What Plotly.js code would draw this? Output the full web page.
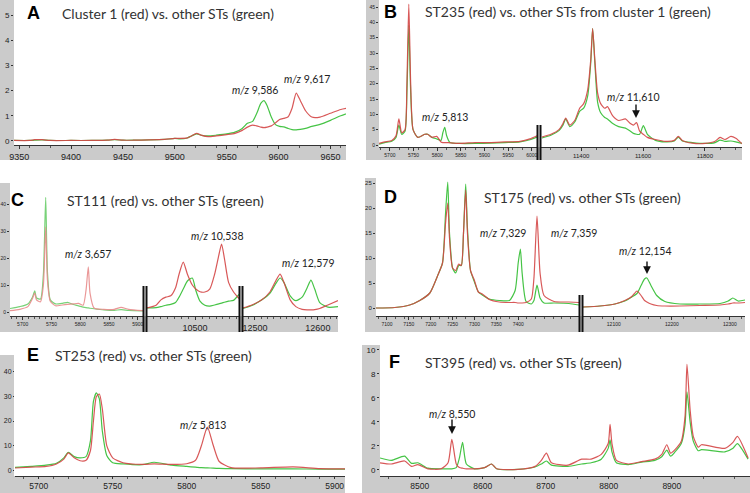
<!DOCTYPE html>
<html><head><meta charset="utf-8">
<script src="https://cdn.plot.ly/plotly-3.0.1.min.js"></script>
<style>html,body{margin:0;padding:0;background:#fff;}#c{width:750px;height:493px;}</style>
</head><body><div id="c"></div>
<script>
// ---------- DATA ----------
// Panel A
var A_mz    = [9345,9360,9365,9372,9380,9400,9420,9435,9442,9450,9460,9475,9490,9500,9505,9512,9516,9521,9526,9532,9540,9550,9558,9565,9570,9575,9579,9583,9586,9589,9593,9597,9601,9605,9609,9613,9617,9621,9626,9632,9640,9650,9660,9670];
var A_red   = [0.02,0.02,0.05,0.05,0.02,0.02,0.02,0.03,0.06,0.03,0.03,0.04,0.06,0.1,0.1,0.12,0.2,0.3,0.22,0.17,0.2,0.25,0.3,0.42,0.55,0.63,0.6,0.55,0.53,0.55,0.6,0.72,0.85,0.9,0.95,1.3,1.9,1.6,1.2,0.95,0.95,1.1,1.25,1.33];
var A_green = [0.02,0.02,0.03,0.04,0.02,0.02,0.02,0.03,0.05,0.03,0.03,0.04,0.06,0.1,0.08,0.12,0.2,0.28,0.22,0.2,0.23,0.28,0.35,0.5,0.7,0.78,1.1,1.5,1.6,1.4,0.95,0.65,0.58,0.56,0.5,0.45,0.44,0.46,0.5,0.58,0.66,0.82,1.0,1.15];
// Panel B, left segment
var B1_mz    = [5677,5689,5704,5713,5719,5725,5732,5736,5740,5744,5749,5759,5774,5780,5789,5799,5808,5812,5816,5820,5827,5848,5880,5911,5943,5975,5996,6011];
var B1_red   = [0.5,1.0,1.5,3,8.5,4,5,20,46,20,5,2.5,3.5,3.5,2.5,2.8,1,0.8,0.8,0.8,0.7,0.5,0.8,0.8,1.0,1.2,2.0,3.0];
var B1_green = [0.3,0.8,1.2,2.5,6.5,3.5,4.5,17,39,17,5,2.5,3.5,3.5,2.5,2,1.5,4,5.8,3,0.8,0.5,0.5,0.6,0.8,1.0,1.7,2.6];
// Panel B, right segment
var B2_mz    = [11273,11302,11328,11341,11350,11363,11379,11395,11408,11421,11431,11437,11444,11453,11463,11476,11485,11502,11521,11543,11559,11569,11579,11589,11601,11614,11640,11672,11701,11714,11727,11759,11801,11833,11849,11865,11884,11900,11920];
var B2_red   = [2.6,3.5,5,7,8.8,6.5,8,12,13.5,18,28,38,28,17,13.5,12,12.5,9.5,8,8.5,7,6.5,7.3,4.5,3.5,2.5,1.8,1.2,1.5,2.8,1.5,0.6,0.5,1.2,2.5,1.8,2.8,2.2,0.4];
var B2_green = [2.3,3.2,4.7,6.5,8.5,6,7.5,11,12,16,27,38,27,14,10.5,9,8.5,7,6,5.5,4.5,3.8,3.5,3.5,6.3,3.5,1.5,1.0,1.3,2.6,1.3,0.8,0.5,0.8,1.6,1.2,1.3,1.0,0.5];
// Panel C, three segments
var C1_mz    = [5678,5695,5709,5717,5721,5724,5731,5736,5740,5743,5748,5757,5769,5778,5788,5797,5805,5810,5814,5817,5824,5841,5859,5871,5884,5909];
var C1_red   = [0.5,1.0,2.0,5.0,7.0,4.5,3.8,10,31.5,12,4,2.3,2.6,2.8,3.0,3.2,2.5,8,16.7,7,1.5,1.0,1.0,1.7,1.0,0.5];
var C1_green = [1.3,2.0,3.0,5.5,7.8,5.2,4.8,14,42.5,15,4.5,3,3.2,3.6,2.8,2.3,1.8,1.6,1.5,1.4,1.2,0.8,0.6,0.9,0.6,0.4];
var C2_mz    = [10431,10444,10451,10458,10465,10472,10477,10483,10489,10496,10501,10507,10514,10521,10528,10534,10538,10542,10548,10555,10563];
var C2_red   = [1.5,2.5,4.5,5.5,6.0,9,14,18.5,14,10,8.5,7.5,7.4,8.5,14,21,25.2,20,11,7.5,5];
var C2_green = [1.5,1.6,2.0,2.5,2.8,3.5,5.5,8.5,11.5,12.6,8,4,2.5,2.2,2.6,3.0,3.3,3.6,4,4.3,6.5];
var C3_mz    = [12481,12495,12511,12524,12533,12540,12546,12556,12565,12575,12583,12589,12595,12603,12616,12632];
var C3_red   = [1.5,2.6,4.5,7.5,11.5,14,11,4.5,2.0,1.0,0.8,0.8,0.9,1.3,2.6,4.2];
var C3_green = [1.3,2.4,4.5,7,10.5,12.6,11,6,4.2,5.5,9,11.8,8.5,3.5,1.8,2.0];
// Panel D, two segments
var D1_mz    = [7075,7118,7152,7175,7198,7216,7227,7234,7239,7243,7250,7257,7264,7270,7275,7280,7284,7291,7300,7309,7318,7334,7357,7380,7393,7400,7405,7409,7418,7430,7436,7443,7450,7459,7482,7516,7539];
var D1_red   = [0.0,0.1,0.6,1.5,3,6.5,9,17,21,14,8,7.5,8.8,8.5,15,23.6,15,7.5,5.5,3.2,2.8,1.7,1.2,1.1,1.1,1.0,1.0,1.0,1.1,1.8,6,18.4,7,2.5,1.3,1.2,1.1];
var D1_green = [0.0,0.1,0.6,1.5,3,6.5,9,19,25.2,15,8,7,8.5,8.5,15,24.8,16,7.5,5.2,3.2,2.6,1.8,1.5,1.5,3.5,9,11.8,7,1.3,0.8,1.5,4.6,2,1.0,1.0,0.9,0.6];
var D2_mz    = [12047,12076,12102,12119,12131,12140,12147,12153,12157,12164,12174,12188,12214,12248,12283,12297,12305,12314,12326];
var D2_red   = [0.2,0.4,0.8,1.5,2.3,3.4,2.5,1.5,1.2,0.8,0.5,0.4,0.4,0.5,0.6,0.8,1.0,1.0,1.1];
var D2_green = [0.2,0.4,0.8,1.4,2.2,2.9,4.5,5.8,6,4.5,2.5,1.3,0.8,0.8,0.9,1.4,2.0,1.4,1.6];
// Panel E
var E_mz    = [5682,5695,5705,5712,5717,5720,5724,5728,5732,5735,5737,5739,5741,5743,5746,5750,5757,5770,5778,5790,5800,5806,5810,5814,5818,5822,5830,5850,5872,5890,5907];
var E_red   = [0.8,1.2,1.5,2.5,4.5,7,5,3.8,4,8,20,30,31,25,10,5,3,2.3,2.5,2.3,2.6,4,10,17.5,10,3.5,1.0,0.9,1.3,0.6,0.5];
var E_green = [1.0,1.5,2.0,2.8,5,7.2,5.5,5,5.5,12,28,31.5,29,16,6,3,2.5,2.2,3.2,2.0,1.5,1.2,1.0,0.9,0.8,0.7,0.6,0.5,0.5,0.4,0.4];
// Panel F
var F_mz    = [8437,8455,8476,8487,8497,8513,8534,8545,8551,8558,8563,8568,8574,8587,8603,8614,8622,8656,8683,8693,8701,8709,8735,8757,8772,8788,8799,8802,8805,8812,8831,8852,8873,8884,8892,8898,8905,8915,8921,8924,8929,8934,8942,8947,8984,8997,9004,9021];
var F_red   = [0.6,0.5,0.75,0.3,0.45,0.1,0.1,0.6,2.55,0.5,0.2,0.15,0.1,0.1,0.2,0.5,0.1,0.05,0.3,0.8,1.4,0.6,0.4,0.9,0.9,1.3,2.2,3.8,2.2,0.8,0.5,0.7,0.9,1.3,2.1,1.4,1.7,2.4,4.5,8.8,5,2.8,1.9,2.1,1.8,2.3,2.8,1.0];
var F_green = [1.0,0.8,1.15,0.55,0.6,0.15,0.1,0.1,0.1,0.2,1.0,2.3,0.5,0.1,0.2,0.5,0.1,0.05,0.25,0.5,0.75,0.4,0.3,0.5,0.6,0.9,1.8,2.5,1.5,0.6,0.45,0.65,0.8,1.1,1.65,1.15,1.5,2.2,3.8,6.5,4,2.4,1.6,1.7,1.5,1.8,2.2,0.9];

// Tick labels
var A_ticks  = [9350,9400,9450,9500,9550,9600,9650];
var B1_ticks = [5700,5750,5800,5850,5900,5950,6000];
var B2_ticks = [11400,11600,11800];
var C1_ticks = [5700,5750,5800,5850,5900];
var C2_ticks = [10500];
var C3_ticks = [12500,12600];
var D1_ticks = [7100,7150,7200,7250,7300,7350,7400];
var D2_ticks = [12100,12200,12300];
var E_ticks  = [5700,5750,5800,5850,5900];
var F_ticks  = [8500,8600,8700,8800,8900];

// ---------- LAYOUT HELPERS ----------
var W = 750, H = 493;
function px(x){return x/W;}
function py(y){return 1 - y/H;}
var RED = 'rgb(212,70,70)', GREEN = 'rgb(70,196,70)';
var RED_L = 'rgb(232,140,140)', GREEN_L = 'rgb(120,210,120)';

function xax(x0,x1,range,ticks,anchor,fs,tl){
  return {domain:[px(x0),px(x1)], range:range, anchor:anchor, tickvals:ticks,
    ticktext:ticks.map(String), showgrid:false, zeroline:false, showline:true,
    linecolor:'#333', linewidth:1, ticks:'outside', ticklen:(tl||3), tickcolor:'#333',
    tickfont:{family:'Arial, Liberation Sans, sans-serif', size:fs, color:'#222'},
    minor:{ticks:'outside', ticklen:2, tickcolor:'#555', nticks:5}, fixedrange:true};
}
function yax(y0,y1,range,dtick,anchor,fs,tl){
  return {domain:[py(y1),py(y0)], range:range, anchor:anchor, dtick:dtick, tick0:0,
    showgrid:false, zeroline:false, showline:false, ticks:'outside', ticklen:(tl||2),
    tickcolor:'#333', tickfont:{family:'Arial, Liberation Sans, sans-serif', size:fs, color:'#222'},
    fixedrange:true};
}
function pair(xs, red, green, xa, ya, rc, gc){
  return [
    {x:xs, y:green, xaxis:xa, yaxis:ya, type:'scatter', mode:'lines', line:{color:gc||GREEN, width:1.2, shape:'spline', smoothing:0.6}, hoverinfo:'skip'},
    {x:xs, y:red, xaxis:xa, yaxis:ya, type:'scatter', mode:'lines', line:{color:rc||RED, width:1.2, shape:'spline', smoothing:0.6}, opacity:0.9, hoverinfo:'skip'}
  ];
}

var data = [].concat(
  pair(A_mz, A_red, A_green, 'x', 'y'),
  pair(B1_mz, B1_red, B1_green, 'x2', 'y2'),
  pair(B2_mz, B2_red, B2_green, 'x3', 'y2'),
  pair(C1_mz, C1_red, C1_green, 'x4', 'y4', RED_L, GREEN_L),
  pair(C2_mz, C2_red, C2_green, 'x5', 'y4'),
  pair(C3_mz, C3_red, C3_green, 'x6', 'y4'),
  pair(D1_mz, D1_red, D1_green, 'x7', 'y7'),
  pair(D2_mz, D2_red, D2_green, 'x8', 'y7'),
  pair(E_mz, E_red, E_green, 'x9', 'y9'),
  pair(F_mz, F_red, F_green, 'x10', 'y10')
);

var GRAY = '#cbcbcb';
function rect(x0,y0,x1,y1){return {type:'rect', xref:'paper', yref:'paper', x0:px(x0), x1:px(x1), y0:py(y1), y1:py(y0), fillcolor:GRAY, line:{width:0}, layer:'below'};}
function vline(x,y0,y1){return {type:'line', xref:'paper', yref:'paper', x0:px(x), x1:px(x), y0:py(y1), y1:py(y0), line:{color:'#111', width:2}};}

var shapes = [
  rect(0,0,14,160), rect(0,145,346,160),
  rect(366,0,379,160), rect(366,147,742,160),
  rect(0,183,10,332), rect(0,316,338,332),
  rect(365,178,376,332), rect(365,316,745,332),
  rect(0,355,14,493), rect(0,476,345,493),
  rect(362,345,380,493), rect(362,476,750,493),
  vline(537.5,125,160), vline(540.5,125,160),
  vline(143.5,286,332), vline(146.5,286,332),
  vline(239.5,286,332), vline(242.5,286,332),
  vline(579.5,295,332), vline(582.5,295,332)
];

var TF = 'Lato, Open Sans, sans-serif';
function title(x,y,t){return {xref:'paper', yref:'paper', x:px(x), y:py(y), xanchor:'left', yanchor:'middle', text:t, showarrow:false, font:{family:TF, size:14, color:'#333'}};}
function letter(x,y,t){return {xref:'paper', yref:'paper', x:px(x), y:py(y), xanchor:'center', yanchor:'middle', text:'<b>'+t+'</b>', showarrow:false, font:{family:'Arial, Liberation Sans, sans-serif', size:18, color:'#000'}};}
function lab(x,y,t){return {xref:'paper', yref:'paper', x:px(x), y:py(y), xanchor:'center', yanchor:'middle', text:'<i>m/z</i> '+t, showarrow:false, font:{family:TF, size:10.5, color:'#222'}};}
function arrow(x,yHead,yTail){return {xref:'paper', yref:'paper', x:px(x), y:py(yHead), ax:0, ay:-(yHead-yTail), axref:'pixel', ayref:'pixel', text:'', showarrow:true, arrowhead:2, arrowsize:1.1, arrowwidth:1.4, arrowcolor:'#111'};}

var annotations = [
  letter(33,13,'A'), title(60,13,'Cluster 1 (red) vs. other STs (green)'),
  letter(390,12,'B'), title(423,12,'ST235 (red) vs. other STs from cluster 1 (green)'),
  letter(17,200,'C'), title(65,200,'ST111 (red) vs. other STs (green)'),
  letter(390,197,'D'), title(482,197,'ST175 (red) vs. other STs (green)'),
  letter(33,355,'E'), title(53,355,'ST253 (red) vs. other STs (green)'),
  letter(395,362,'F'), title(423,362,'ST395 (red) vs. other STs (green)'),
  lab(255,90,'9,586'), lab(307,79,'9,617'),
  lab(445,117,'5,813'), lab(633,97,'11,610'), arrow(636,118,103),
  lab(88,254,'3,657'), lab(217,236,'10,538'), lab(308,263,'12,579'),
  lab(503,233,'7,329'), lab(574,233,'7,359'), lab(645,251,'12,154'), arrow(647,274,260),
  lab(203,425,'5,813'),
  lab(452,414,'8,550'), arrow(452,434,418)
];

var layout = {
  width:W, height:H, margin:{l:0,r:0,t:0,b:0}, showlegend:false,
  paper_bgcolor:'#fff', plot_bgcolor:'#fff',
  xaxis:  xax(14,346,[9345,9665],A_ticks,'y',9),
  yaxis:  yax(0,145,[-0.16,5.6],1,'x',8),
  xaxis2: xax(379,537,[5677,6011],B1_ticks,'y2',5),
  xaxis3: xax(541,742,[11270,11920],B2_ticks,'y2',6),
  yaxis2: yax(0,147,[-0.65,47.3],5,'x2',5),
  xaxis4: xax(10,143,[5678,5909],C1_ticks,'y4',5),
  xaxis5: xax(147,239,[10431,10563],C2_ticks,'y4',9),
  xaxis6: xax(243,338,[12481,12632],C3_ticks,'y4',9),
  yaxis4: yax(183,316,[-1.48,47.8],10,'x4',5),
  xaxis7: xax(376,579,[7075,7539],D1_ticks,'y7',5),
  xaxis8: xax(583,745,[12047,12326],D2_ticks,'y7',5),
  yaxis7: yax(178,316,[-1.6,26],5,'x7',6),
  xaxis9: xax(15,345,[5684,5907],E_ticks,'y9',8.5,2),
  yaxis9: yax(355,476,[-2.4,46.9],10,'x9',7,1),
  xaxis10: xax(380,750,[8437,9024],F_ticks,'y10',8.5,2),
  yaxis10: yax(345,476,[-0.5,10.4],2,'x10',8),
  shapes:shapes, annotations:annotations
};
Plotly.newPlot('c', data, layout, {staticPlot:true, displayModeBar:false});
</script></body></html>
